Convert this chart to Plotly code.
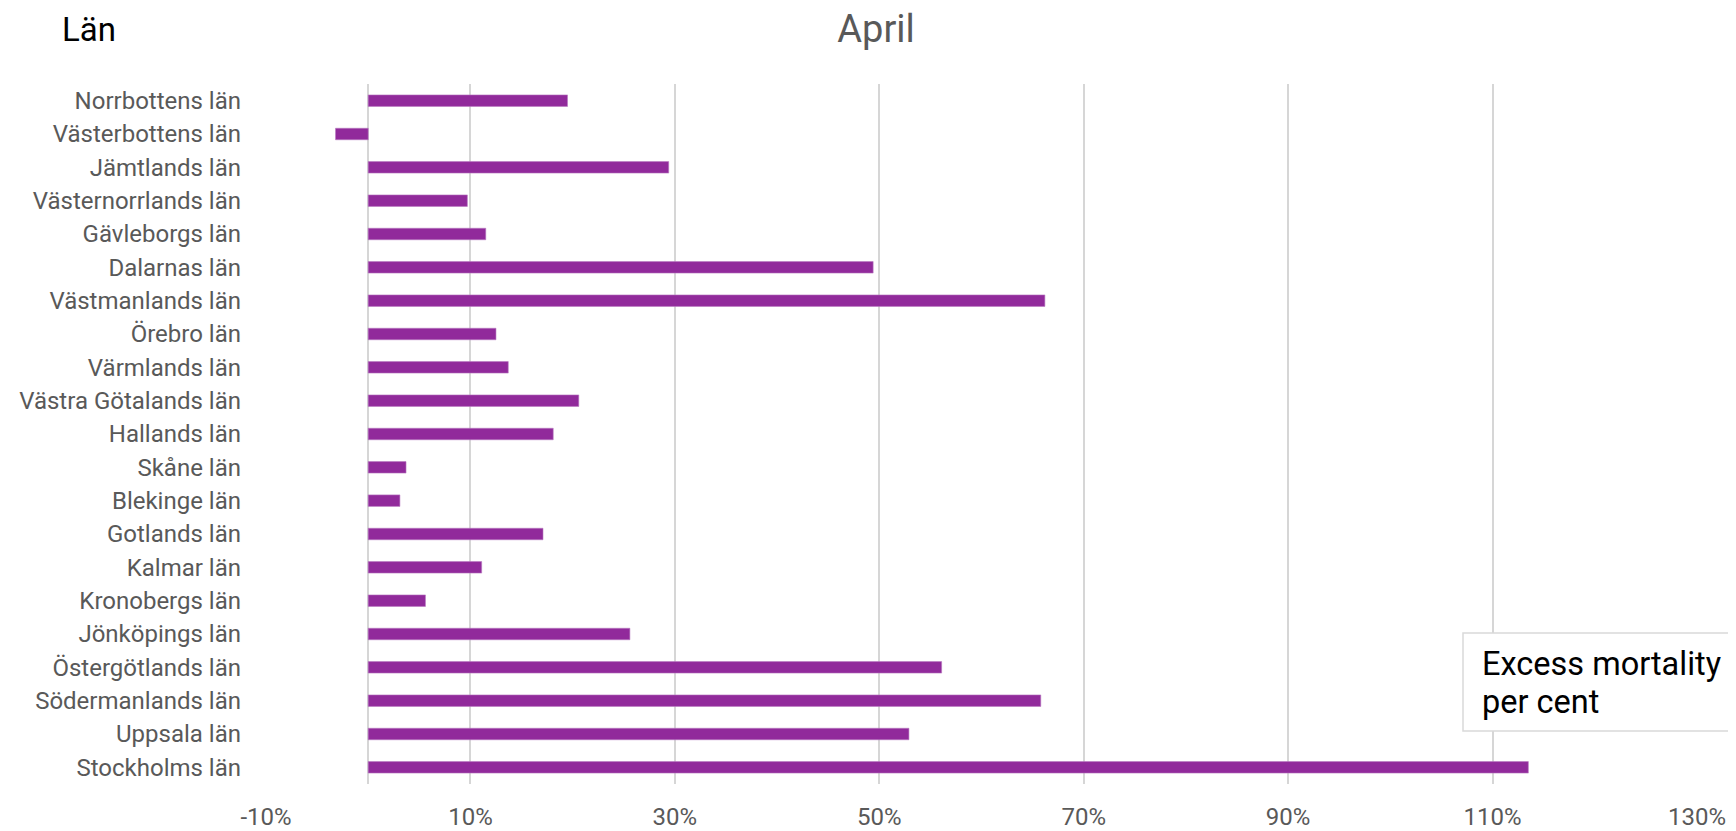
import plotly.graph_objects as go

counties = [
    "Norrbottens län", "Västerbottens län", "Jämtlands län", "Västernorrlands län",
    "Gävleborgs län", "Dalarnas län", "Västmanlands län", "Örebro län",
    "Värmlands län", "Västra Götalands län", "Hallands län", "Skåne län",
    "Blekinge län", "Gotlands län", "Kalmar län", "Kronobergs län",
    "Jönköpings län", "Östergötlands län", "Södermanlands län", "Uppsala län",
    "Stockholms län",
]
excess_pct = [
    19.5, -3.2, 29.4, 9.7,
    11.5, 49.4, 66.2, 12.5,
    13.7, 20.6, 18.1, 3.7,
    3.1, 17.1, 11.1, 5.6,
    25.6, 56.1, 65.8, 52.9,
    113.5,
]
tick_vals = [-10, 10, 30, 50, 70, 90, 110, 130]
tick_text = ["-10%", "10%", "30%", "50%", "70%", "90%", "110%", "130%"]
legend_lines = ["Excess mortality", "per cent"]

# the page body has an 8px margin; size the figure so it fills the window
OFF = 8
W, H = 1736 - OFF, 831 - OFF
# plot area in page pixels: x 266..1697, y 84..784
L, R, T, B = 266 - OFF, 1736 - 1697, 84 - OFF, 831 - 784
pw, ph = W - L - R, H - T - B


def px(xp):  # page x -> paper
    return (xp - OFF - L) / pw


def py(yp):  # page y -> paper
    return 1 - (yp - OFF - T) / ph


fig = go.Figure(go.Bar(
    x=excess_pct, y=counties, orientation="h",
    marker=dict(color="#912A9B", line=dict(color="#B97BC1", width=0.6)),
    hoverinfo="x+y",
))

fig.update_layout(
    width=W, height=H,
    margin=dict(l=L, r=R, t=T, b=B, autoexpand=False),
    paper_bgcolor="white", plot_bgcolor="white",
    font=dict(family="Roboto", color="#595959", size=24),
    bargap=0.655,
    showlegend=False,
    title=dict(text="April", x=(876 - OFF) / W, xref="container", xanchor="center",
               y=1 - (26 - OFF + 2.6) / H, yref="container", yanchor="middle",
               font=dict(family="Roboto", size=38, color="#595959")),
    xaxis=dict(range=[-10, 130], tickvals=tick_vals, ticktext=tick_text,
               showgrid=True, gridcolor="#d6d6d6", gridwidth=1.5,
               zeroline=True, zerolinecolor="#d6d6d6", zerolinewidth=1.5,
               showline=False, ticks="", ticklabelstandoff=16, automargin=False,
               tickfont=dict(size=24, color="#595959")),
    yaxis=dict(autorange="reversed", showgrid=False, showline=False,
               ticks="", ticklabelstandoff=24, automargin=False,
               tickfont=dict(size=24, color="#595959")),
)

# "Län" heading
fig.add_annotation(text="Län", xref="paper", yref="paper",
                   x=px(60), y=py(30),
                   xanchor="left", yanchor="middle", showarrow=False,
                   font=dict(family="Roboto", size=33, color="black"))

# legend-like box at lower right
fig.add_shape(type="rect", xref="paper", yref="paper",
              x0=px(1463), x1=px(1760),
              y0=py(731), y1=py(633),
              line=dict(color="#d9d9d9", width=1.5), fillcolor="white", layer="above")
for line_text, yc in zip(legend_lines, [664, 702]):
    fig.add_annotation(text=line_text, xref="paper", yref="paper",
                       x=px(1480), y=py(yc),
                       xanchor="left", yanchor="middle", align="left", showarrow=False,
                       font=dict(family="Roboto", size=32.5, color="black"))

fig.write_html("out.html")
